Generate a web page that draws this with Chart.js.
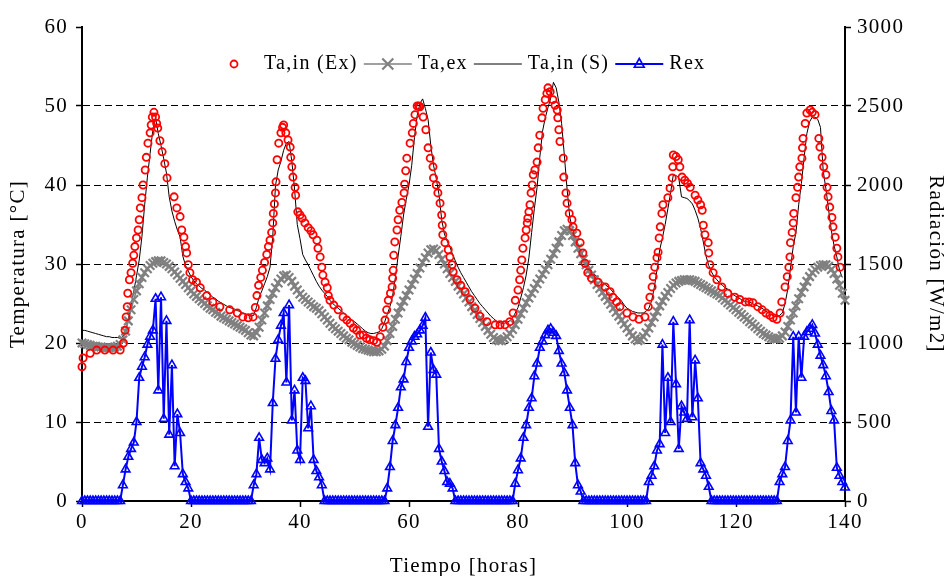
<!DOCTYPE html>
<html>
<head>
<meta charset="utf-8">
<script src="https://cdn.jsdelivr.net/npm/chart.js@4.4.1/dist/chart.umd.min.js"></script>
<style>
    html, body { margin: 0; padding: 0; background: #fff; }
    #wrap { width: 948px; height: 576px; position: relative; }
</style>
</head>
<body>
<div id="wrap"><canvas id="chart"></canvas></div>
<script>
// Sampling step of the regular series (hours)
const stepHours = 0.5;

// Ta,ex - outdoor air temperature [°C], one value every 0.5 h from 0 to 140
const taExt = [
    20.0, 19.9, 19.8, 19.7, 19.6, 19.6, 19.5, 19.5, 19.4, 19.4, 19.4, 19.4, 19.5, 19.6, 19.8, 20.4, 21.5, 22.8, 24.2, 25.5,
    26.6, 27.5, 28.3, 28.9, 29.4, 29.8, 30.1, 30.3, 30.4, 30.4, 30.2, 30.0, 29.7, 29.4, 29.0, 28.6, 28.2, 27.8, 27.4, 27.0,
    26.6, 26.2, 25.9, 25.6, 25.3, 25.0, 24.7, 24.4, 24.2, 23.9, 23.7, 23.4, 23.2, 23.0, 22.8, 22.6, 22.4, 22.2, 22.0, 21.8,
    21.6, 21.3, 21.0, 20.9, 21.3, 22.0, 22.9, 23.8, 24.7, 25.5, 26.3, 27.0, 27.6, 28.1, 28.5, 28.6, 28.3, 27.8, 27.2, 26.7,
    26.2, 25.8, 25.5, 25.2, 24.9, 24.6, 24.4, 24.1, 23.7, 23.3, 22.9, 22.5, 22.1, 21.8, 21.5, 21.2, 20.9, 20.6, 20.4, 20.1,
    19.9, 19.7, 19.5, 19.3, 19.2, 19.1, 19.0, 18.9, 18.9, 19.0, 19.2, 19.6, 20.3, 21.2, 22.1, 23.0, 23.8, 24.6, 25.3, 26.0,
    26.7, 27.4, 28.1, 28.8, 29.5, 30.2, 30.8, 31.4, 31.8, 31.9, 31.7, 31.2, 30.6, 30.0, 29.4, 28.8, 28.3, 27.8, 27.2, 26.7,
    26.2, 25.7, 25.2, 24.6, 24.1, 23.6, 23.1, 22.6, 22.1, 21.6, 21.1, 20.7, 20.4, 20.3, 20.3, 20.5, 20.8, 21.2, 21.7, 22.3,
    23.0, 23.7, 24.4, 25.1, 25.7, 26.3, 26.9, 27.5, 28.1, 28.7, 29.3, 29.9, 30.6, 31.3, 32.0, 32.8, 33.6, 34.2, 34.4, 34.2,
    33.6, 32.8, 32.0, 31.3, 30.6, 29.9, 29.2, 28.6, 28.0, 27.4, 26.9, 26.4, 25.9, 25.4, 24.9, 24.4, 23.9, 23.4, 22.9, 22.4,
    21.9, 21.4, 20.9, 20.5, 20.3, 20.4, 20.8, 21.3, 21.9, 22.6, 23.3, 24.0, 24.7, 25.3, 25.9, 26.4, 26.9, 27.3, 27.6, 27.8,
    27.9, 28.0, 28.0, 28.0, 27.9, 27.8, 27.6, 27.4, 27.2, 27.0, 26.8, 26.6, 26.4, 26.2, 26.0, 25.7, 25.4, 25.1, 24.8, 24.5,
    24.2, 23.9, 23.6, 23.3, 23.0, 22.7, 22.4, 22.1, 21.8, 21.5, 21.2, 21.0, 20.8, 20.6, 20.5, 20.5, 20.6, 20.9, 21.4, 22.1,
    22.9, 23.8, 24.7, 25.6, 26.4, 27.1, 27.8, 28.4, 28.9, 29.3, 29.6, 29.8, 29.9, 29.9, 29.7, 29.3, 28.8, 28.1, 27.3, 26.3, 25.4
];

// Ta,in (S) - simulated indoor temperature [°C], same time grid
const taInSim = [
    21.6, 21.6, 21.5, 21.4, 21.3, 21.2, 21.1, 21.0, 20.9, 20.8, 20.8, 20.7, 20.7, 20.7, 20.6, 20.8, 21.5, 23.0, 24.8, 26.5,
    28.5, 30.5, 33.5, 37.5, 41.0, 44.0, 47.0, 48.5, 46.5, 45.0, 43.3, 41.5, 38.5, 36.7, 35.4, 34.3, 33.4, 31.0, 29.8, 29.1,
    28.4, 27.9, 27.5, 27.2, 26.9, 26.7, 26.4, 26.1, 25.8, 25.6, 25.3, 25.1, 24.9, 24.7, 24.5, 24.4, 24.3, 24.1, 24.0, 23.8,
    23.7, 23.5, 23.4, 23.5, 24.5, 25.8, 26.6, 27.5, 28.4, 29.6, 33.5, 39.9, 41.9, 43.0, 44.4, 45.3, 45.5, 43.0, 39.5, 35.0,
    33.2, 31.2, 30.5, 29.9, 29.2, 28.5, 27.8, 27.2, 26.7, 26.3, 25.9, 25.4, 25.0, 24.7, 24.4, 24.1, 23.8, 23.5, 23.2, 22.9,
    22.7, 22.4, 22.1, 21.8, 21.5, 21.3, 21.2, 21.2, 21.3, 21.4, 21.8, 22.6, 23.6, 24.6, 26.0, 28.3, 31.0, 33.5, 36.2, 38.2,
    40.0, 42.5, 46.0, 48.8, 50.3, 50.9, 49.7, 48.3, 45.0, 42.5, 40.8, 38.8, 35.6, 33.8, 32.9, 32.2, 31.2, 30.4, 29.6, 28.9,
    28.3, 27.7, 27.1, 26.5, 26.0, 25.5, 25.0, 24.6, 24.2, 23.8, 23.4, 23.1, 22.8, 22.6, 22.5, 22.5, 22.6, 22.8, 23.2, 23.8,
    24.5, 25.7, 27.0, 28.6, 30.8, 34.0, 37.0, 39.7, 43.5, 46.8, 48.5, 49.8, 51.0, 53.0, 52.3, 50.5, 47.8, 43.8, 39.5, 35.9,
    34.5, 33.4, 32.5, 31.7, 31.0, 30.3, 29.7, 29.1, 28.7, 28.4, 28.0, 27.7, 27.4, 27.1, 26.8, 26.4, 26.0, 25.7, 25.3, 24.8,
    24.4, 24.2, 24.0, 23.9, 23.8, 23.8, 23.8, 24.0, 24.4, 25.3, 27.0, 29.2, 31.8, 33.3, 35.0, 37.0, 39.0, 41.3, 41.2, 40.9,
    38.5, 38.4, 38.3, 38.0, 37.6, 36.8, 35.8, 34.5, 32.8, 31.0, 29.8, 29.0, 28.4, 28.0, 27.6, 27.3, 27.0, 26.8, 26.5, 26.1,
    25.9, 25.7, 25.5, 25.3, 25.2, 25.2, 25.0, 24.8, 24.7, 24.5, 24.3, 24.0, 23.8, 23.6, 23.4, 23.3, 23.5, 23.8, 25.0, 26.8,
    29.5, 32.2, 34.0, 37.5, 40.2, 43.5, 46.5, 48.0, 48.6, 48.6, 48.3, 47.3, 41.8, 39.5, 36.8, 34.2, 32.3, 30.9, 29.2, 28.3, null
];

// Rex - measured solar radiation [W/m2], same time grid
const radExt = [
    0, 0, 0, 0, 0, 0, 0, 0, 0, 0, 0, 0, 0, 0, 0, 100, 200, 280, 330, 370,
    500, 780, 850, 910, 990, 1040, 1080, 1280, 700, 1290, 520, 1140, 420, 860, 220, 550, 430, 170, 120, 80,
    0, 0, 0, 0, 0, 0, 0, 0, 0, 0, 0, 0, 0, 0, 0, 0, 0, 0, 0, 0,
    0, 0, 0, 100, 170, 400, 260, 240, 270, 200, 620, 900, 1020, 1110, 1190, 750, 1240, 510, 700, 320,
    260, 780, 760, 460, 600, 260, 190, 150, 100, 0, 0, 0, 0, 0, 0, 0, 0, 0, 0, 0,
    0, 0, 0, 0, 0, 0, 0, 0, 0, 0, 0, 0, 80, 215, 380, 480, 590, 720, 770, 880,
    970, 1010, 1040, 1055, 1080, 1110, 1160, 470, 940, 830, 800, 330, 250, 190, 120, 110, 80, 0, 0, 0,
    0, 0, 0, 0, 0, 0, 0, 0, 0, 0, 0, 0, 0, 0, 0, 0, 0, 0, 0, 110,
    195, 270, 400, 480, 590, 650, 790, 870, 970, 1010, 1050, 1080, 1090, 1065, 1045, 950, 870, 810, 700, 590,
    480, 240, 100, 60, 0, 0, 0, 0, 0, 0, 0, 0, 0, 0, 0, 0, 0, 0, 0, 0,
    0, 0, 0, 0, 0, 0, 0, 0, 120, 160, 220, 320, 360, 990, 430, 780, 500, 1135, 740, 330,
    600, 560, 520, 1145, 530, 890, 650, 240, 200, 160, 90, 0, 0, 0, 0, 0, 0, 0, 0, 0,
    0, 0, 0, 0, 0, 0, 0, 0, 0, 0, 0, 0, 0, 0, 0, 0, 120, 170, 215, 380,
    510, 1040, 560, 1040, 780, 1040, 1070, 1090, 1115, 1060, 990, 920, 860, 790, 690, 570, 510, 210, 160, 120, 85
];

// Ta,in (Ex) - measured indoor temperature, irregular samples [hour, °C]
const taInExp = [
    [0, 17.0], [0.2, 18.1], [1.5, 18.7], [2.7, 19.1], [4.2, 19.1], [5.7, 19.1], [7.0, 19.1], [7.6, 20.0], [7.9, 21.6], [8.1, 23.3],
    [8.3, 24.6], [8.4, 26.3], [8.7, 28.0], [9.0, 28.9], [9.3, 30.1], [9.5, 31.1], [9.7, 32.2], [10.0, 33.3], [10.3, 34.3], [10.5, 35.6],
    [10.7, 37.1], [11.0, 38.4], [11.2, 40.0], [11.6, 41.9], [11.8, 43.5], [12.1, 45.3], [12.5, 46.6], [12.7, 47.6], [12.9, 48.6], [13.2, 49.2],
    [13.5, 48.6], [13.7, 47.8], [13.9, 47.2], [14.3, 45.6], [14.7, 44.2], [15.2, 42.7], [15.6, 40.9], [16.9, 38.5], [17.4, 37.1], [18.0, 36.0],
    [18.3, 34.3], [18.7, 33.4], [19.0, 32.2], [19.2, 31.4], [19.5, 29.9], [19.8, 28.9], [20.3, 28.0], [21.0, 27.7], [21.7, 27.0], [22.9, 26.0],
    [24.0, 25.2], [25.3, 24.6], [27.1, 24.2], [28.5, 23.8], [29.5, 23.3], [30.5, 23.2], [31.4, 23.3],
    [31.8, 24.5], [32.1, 26.0], [32.4, 27.3], [32.8, 28.3], [33.1, 29.2], [33.5, 30.2], [33.9, 31.2], [34.2, 32.2], [34.5, 33.0], [34.8, 34.0],
    [35.0, 35.2], [35.1, 36.4], [35.3, 37.6], [35.5, 39.0], [35.6, 40.4], [35.8, 43.2], [36.1, 45.3], [36.5, 46.6], [36.8, 47.3], [37.0, 47.6],
    [37.4, 46.6], [37.8, 45.7], [38.2, 44.8], [38.3, 43.5], [38.5, 42.3], [38.7, 41.0], [39.1, 39.7], [39.2, 38.7], [39.6, 36.6], [40.0, 36.2],
    [40.4, 35.8], [40.9, 35.2], [41.5, 34.6], [42.0, 34.2], [42.4, 33.7], [43.1, 33.0], [43.3, 32.0], [43.7, 30.9], [44.0, 29.6], [44.2, 28.6],
    [44.6, 27.7], [45.0, 27.0], [45.2, 26.0], [45.5, 25.4], [46.2, 24.8], [47.0, 24.2], [47.9, 23.3], [48.6, 22.9], [49.2, 22.5], [49.8, 21.9],
    [50.4, 21.6], [51.0, 21.0], [51.6, 21.0], [52.2, 20.6], [52.8, 20.4], [53.5, 20.3], [54.1, 20.1], [54.7, 20.8], [55.2, 22.0], [55.6, 22.9],
    [55.9, 24.2], [56.2, 25.4], [56.6, 26.3], [56.9, 27.1], [57.0, 28.2], [57.1, 29.2], [57.2, 31.1], [57.4, 32.8], [57.8, 34.3], [58.0, 35.6],
    [58.3, 36.8], [58.7, 37.8], [59.1, 39.0], [59.2, 40.1], [59.4, 41.8], [59.6, 43.4], [60.2, 45.3], [60.6, 46.6], [60.8, 47.8], [61.1, 48.9],
    [61.5, 50.0], [61.8, 50.0], [62.0, 49.9], [62.6, 48.6], [63.1, 47.0], [63.5, 44.7], [63.9, 43.4], [64.4, 42.3], [64.5, 40.9], [65.0, 40.0],
    [65.3, 39.0], [65.7, 37.7], [66.0, 36.2], [66.1, 34.9], [66.2, 33.7], [66.6, 32.7], [67.2, 31.8], [67.5, 30.9], [67.9, 29.9], [68.1, 29.0],
    [68.8, 28.0], [69.5, 27.3], [70.3, 26.5], [71.2, 25.5], [72.1, 24.4], [73.0, 23.4], [74.3, 22.7], [75.8, 22.3], [76.7, 22.3], [77.6, 22.3],
    [78.5, 22.7], [79.1, 23.8], [79.5, 25.4], [80.0, 26.7], [80.3, 28.0], [80.5, 29.2], [80.7, 30.5], [80.9, 32.0], [81.3, 33.3], [81.5, 34.3],
    [81.7, 35.2], [81.8, 35.8], [82.0, 36.6], [82.2, 37.5], [82.4, 39.0], [82.6, 40.0], [82.8, 41.3], [83.1, 41.9], [83.5, 42.9], [83.7, 44.7],
    [84.0, 46.3], [84.4, 48.5], [84.6, 49.7], [85.0, 50.8], [85.3, 51.6], [85.5, 52.3], [85.9, 51.8], [86.4, 50.8], [86.8, 50.1], [87.2, 49.5],
    [87.3, 48.5], [87.5, 47.0], [87.7, 45.5], [88.3, 43.4], [88.4, 41.0], [88.8, 39.0], [89.0, 37.7], [89.4, 36.4], [89.9, 35.6], [90.1, 34.7],
    [90.8, 33.9], [91.4, 32.7], [91.9, 31.4], [92.3, 30.1], [92.8, 28.9], [93.5, 28.2], [94.7, 27.7], [96.0, 27.1], [96.9, 26.5], [97.4, 25.8],
    [98.1, 25.2], [98.7, 24.6], [100.0, 23.8], [101.1, 23.3], [102.2, 23.0], [103.3, 23.3], [103.9, 24.6], [104.2, 25.8], [104.6, 27.1], [104.8, 28.4],
    [105.1, 29.6], [105.5, 30.8], [105.7, 31.5], [105.9, 33.3], [106.1, 34.7], [106.4, 36.4], [106.6, 37.5], [107.5, 38.4], [107.9, 39.6], [108.3, 40.9],
    [108.4, 42.3], [108.5, 43.8], [109.0, 43.6], [109.4, 43.2], [109.7, 42.3], [110.1, 41.0], [110.6, 40.6], [111.1, 40.2], [111.6, 39.7], [112.5, 38.7],
    [113.0, 38.1], [113.5, 37.5], [113.8, 36.8], [114.0, 34.9], [114.3, 33.7], [114.9, 32.7], [115.0, 31.4], [115.2, 29.9], [115.8, 28.9], [116.5, 28.0],
    [117.4, 27.1], [118.5, 26.3], [119.8, 25.8], [120.7, 25.5], [121.7, 25.2], [122.4, 25.2], [123.1, 25.1], [124.0, 24.6], [124.8, 24.2], [125.5, 23.8],
    [126.2, 23.5], [126.8, 23.2], [127.5, 23.0], [128.1, 23.8], [128.4, 25.2], [129.0, 27.1], [129.4, 28.4], [129.7, 29.6], [129.9, 30.9], [130.0, 32.7],
    [130.3, 34.0], [130.5, 35.2], [130.6, 36.4], [131.0, 38.4], [131.3, 39.7], [131.5, 41.0], [131.7, 42.3], [132.1, 43.4], [132.2, 44.7], [132.3, 45.9],
    [132.7, 47.8], [133.0, 49.1], [133.6, 49.5], [134.0, 49.2], [134.5, 48.9], [135.2, 45.9], [135.4, 44.8], [135.8, 43.5], [136.1, 42.3], [136.5, 41.3],
    [136.7, 39.7], [136.9, 38.5], [137.2, 37.2], [137.6, 35.9], [137.8, 34.7], [138.2, 33.4], [138.5, 32.0], [138.7, 30.9], [139.1, 29.6]
];

const hours = taExt.map((_, i) => i * stepHours);
const onGrid = (values) => values.map((v, i) => ({ x: hours[i], y: v }));

const serif = "'Liberation Serif', 'Times New Roman', serif";
const axisFont = { family: serif, size: 21 };
const spacing = "1.3px";

// The original text is a little spread out; canvas resets on resize so set it before each pass
const letterSpacing = {
    id: "letterSpacing",
    beforeLayout(chart) { chart.ctx.letterSpacing = spacing; },
    beforeDraw(chart) { chart.ctx.letterSpacing = spacing; },
};

// Legend drawn inside the plot, with a line sample and marker like the original
function drawMarker(ctx, style, x, y, r) {
    ctx.beginPath();
    if (style === "circle") {
        ctx.arc(x, y, r, 0, Math.PI * 2);
    } else if (style === "crossRot") {
        ctx.moveTo(x - r, y - r); ctx.lineTo(x + r, y + r);
        ctx.moveTo(x - r, y + r); ctx.lineTo(x + r, y - r);
    } else if (style === "triangle") {
        ctx.moveTo(x, y - r); ctx.lineTo(x + r * 0.9, y + r * 0.6); ctx.lineTo(x - r * 0.9, y + r * 0.6); ctx.closePath();
    }
    ctx.stroke();
}

const insideLegend = {
    id: "insideLegend",
    afterDraw(chart) {
        const ctx = chart.ctx;
        const area = chart.chartArea;
        const sample = 48;
        let x = area.left + 128;
        const y = area.top + 37;
        ctx.save();
        ctx.font = "20px " + serif;
        ctx.letterSpacing = spacing;
        ctx.textBaseline = "middle";
        ctx.fillStyle = "#000";
        chart.data.datasets.forEach((ds) => {
            if (ds.showLine) {
                ctx.strokeStyle = ds.borderColor;
                ctx.lineWidth = ds.borderWidth;
                ctx.beginPath();
                ctx.moveTo(x, y);
                ctx.lineTo(x + sample, y);
                ctx.stroke();
            }
            if (ds.pointRadius > 0) {
                ctx.strokeStyle = ds.pointBorderColor || ds.borderColor;
                ctx.lineWidth = ds.pointBorderWidth;
                drawMarker(ctx, ds.pointStyle, x + sample / 2, y, ds.pointStyle === "circle" ? 3.5 : 5.5);
            }
            x += sample + 6;
            ctx.fillText(ds.label, x, y);
            x += ctx.measureText(ds.label).width + 6;
        });
        ctx.restore();
    }
};

const chart = new Chart(document.getElementById("chart"), {
    type: "scatter",
    data: {
        datasets: [{
                label: "Ta,in (Ex)",
                data: taInExp.map((p) => ({ x: p[0], y: p[1] })),
                showLine: false,
                borderColor: "#ff0000",
                backgroundColor: "rgba(0,0,0,0)",
                pointStyle: "circle",
                pointRadius: 3.6,
                pointBorderWidth: 1.8,
                yAxisID: "y",
                clip: false,
            },
            {
                label: "Ta,ex",
                data: onGrid(taExt),
                showLine: true,
                borderColor: "#808080",
                borderWidth: 1.5,
                pointBorderColor: "#808080",
                backgroundColor: "rgba(0,0,0,0)",
                pointStyle: "crossRot",
                pointRadius: 6,
                pointBorderWidth: 2.2,
                yAxisID: "y",
                clip: false,
            },
            {
                label: "Ta,in (S)",
                data: onGrid(taInSim),
                showLine: true,
                borderColor: "#000000",
                borderWidth: 1,
                pointRadius: 0,
                yAxisID: "y",
                clip: false,
            },
            {
                label: "Rex",
                data: onGrid(radExt),
                showLine: true,
                borderColor: "#0000ff",
                borderWidth: 2,
                pointBorderColor: "#0000ff",
                pointBackgroundColor: "rgba(0,0,0,0)",
                pointStyle: "triangle",
                pointRadius: 5,
                pointBorderWidth: 1.6,
                yAxisID: "y1",
                clip: false,
            },
        ],
    },
    options: {
        responsive: true,
        maintainAspectRatio: false,
        animation: false,
        events: [],
        layout: { padding: { top: 27, left: 0, right: 0, bottom: 0 } },
        elements: { line: { tension: 0 } },
        plugins: {
            legend: { display: false },
            tooltip: { enabled: false },
        },
        scales: {
            x: {
                type: "linear",
                min: 0,
                max: 140,
                afterFit: (s) => { s.height = 75; },
                ticks: { stepSize: 20, font: axisFont, color: "#000", padding: 3, maxRotation: 0, callback: (v) => String(v) },
                grid: { drawOnChartArea: false, tickColor: "#000", tickLength: 6, tickWidth: 1.5 },
                border: { color: "#000", width: 2 },
                title: { display: true, text: "Tiempo [horas]", font: axisFont, color: "#000", padding: { top: 0, bottom: -3 } },
            },
            y: {
                position: "left",
                min: 0,
                max: 60,
                afterFit: (s) => { s.width = 82; },
                ticks: { stepSize: 10, font: axisFont, color: "#000", padding: 8, callback: (v) => String(v) },
                grid: {
                    color: (c) => (c.tick && (c.tick.value === 0 || c.tick.value === 60)) ? "rgba(0,0,0,0)" : "#000",
                    lineWidth: 1,
                    tickColor: "#000",
                    tickLength: 6,
                    tickWidth: 1.5,
                },
                border: { color: "#000", width: 2, dash: [7, 4] },
                title: { display: true, text: "Temperatura [°C]", font: axisFont, color: "#000", padding: { top: 6, bottom: 0 } },
            },
            y1: {
                position: "right",
                min: 0,
                max: 3000,
                afterFit: (s) => { s.width = 103; },
                ticks: { stepSize: 500, font: axisFont, color: "#000", padding: 6, callback: (v) => String(v) },
                grid: { drawOnChartArea: false, tickColor: "#000", tickLength: 6, tickWidth: 1.5 },
                border: { color: "#000", width: 2 },
                title: { display: true, text: "Radiación [W/m2]", font: axisFont, color: "#000", padding: { top: 0, bottom: 0 } },
            },
        },
    },
    plugins: [letterSpacing, insideLegend],
});
</script>
</body>
</html>
